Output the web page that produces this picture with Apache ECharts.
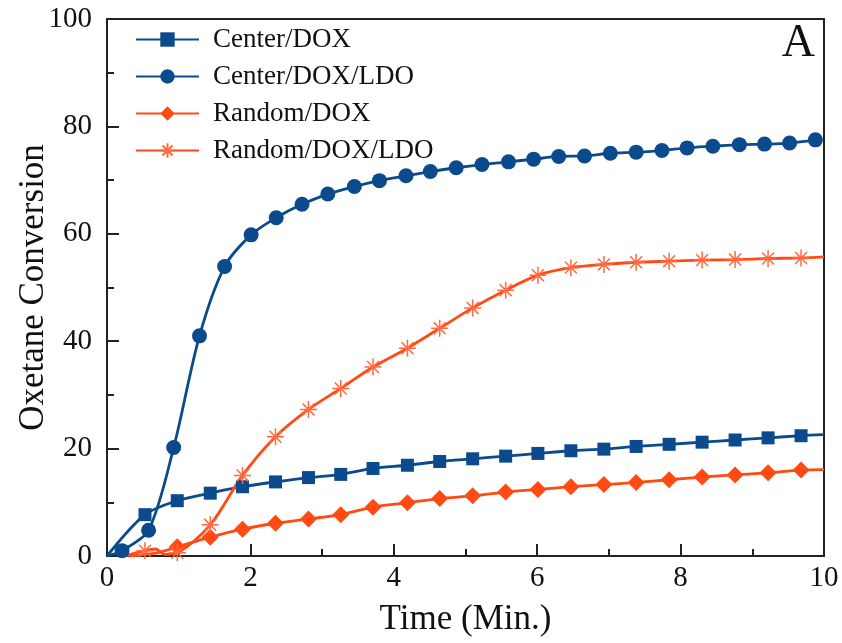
<!DOCTYPE html>
<html>
<head>
<meta charset="utf-8">
<script src="https://cdn.jsdelivr.net/npm/echarts@6/dist/echarts.min.js"></script>
<style>
  html, body { margin: 0; padding: 0; background: #fff; }
  #chart { width: 842px; height: 643px; }
</style>
</head>
<body>
<div id="chart"></div>
<script>
// sample times (min) shared by squares, diamonds and stars
const timeA = [0.53, 0.98, 1.44, 1.89, 2.35, 2.81, 3.26, 3.71, 4.19, 4.64, 5.10,
  5.56, 6.01, 6.47, 6.93, 7.38, 7.84, 8.30, 8.76, 9.22, 9.68]
// sample times for the circles
const timeB = [0.21, 0.58, 0.93, 1.29, 1.64, 2.01, 2.36, 2.72, 3.08, 3.45, 3.80,
  4.17, 4.51, 4.87, 5.23, 5.60, 5.95, 6.30, 6.66, 7.02, 7.38, 7.74, 8.09, 8.45,
  8.82, 9.17, 9.52, 9.88]

const centerDox = [7.7, 10.3, 11.7, 12.9, 13.8, 14.6, 15.2, 16.3, 16.9, 17.6, 18.1,
  18.6, 19.1, 19.6, 19.9, 20.4, 20.8, 21.2, 21.6, 22.0, 22.4]
const centerDoxLdo = [1.0, 4.8, 20.2, 41.0, 53.9, 59.8, 63.0, 65.5, 67.4, 68.8, 69.9,
  70.8, 71.6, 72.3, 72.9, 73.4, 73.9, 74.4, 74.5, 75.0, 75.2, 75.5, 76.0, 76.3,
  76.6, 76.7, 76.9, 77.5]
// Random/DOX has no marker at the first time of timeA
const randomDox = [null, 1.7, 3.5, 5.0, 6.1, 6.9, 7.7, 9.1, 9.9, 10.7, 11.2,
  11.9, 12.4, 12.9, 13.3, 13.7, 14.2, 14.7, 15.1, 15.5, 16.0]
const randomDoxLdo = [1.0, 0.6, 5.8, 15.0, 22.2, 27.3, 31.2, 35.2, 38.7, 42.4, 46.2,
  49.5, 52.3, 53.7, 54.3, 54.7, 54.9, 55.1, 55.2, 55.4, 55.5]

// unmarked parts of the traces (start near 0, end at the right frame)
const centerDoxLead = [[0, 0]]
const centerDoxEnd = [[10, 22.6]]
const centerDoxLdoLead = [[0, 0]]
const randomDoxLead = [[0.3, 0], [0.7, 0.6]]
const randomDoxEnd = [[10, 16.1]]
const randomDoxLdoLead = [[0.25, 0]]
const randomDoxLdoWiggle = [[0.68, 1.3], [0.8, 0.3]]
const randomDoxLdoEnd = [[10, 55.7]]

const xTicks = [0, 2, 4, 6, 8, 10]
const yTicks = [0, 20, 40, 60, 80, 100]

const blue = '#0b4a8c'
const orange = '#ff4a14'
const starColor = '#ff6a40'
const font = 'Liberation Serif, Times New Roman, serif'

const plain = (pts) => pts.map(p => ({ value: p, symbol: 'none' }))
const marked = (ts, vs) => ts.map((t, i) => [t, vs[i]]).filter(p => p[1] !== null)

const seriesData = {
  centerDox: [...plain(centerDoxLead), ...marked(timeA, centerDox), ...plain(centerDoxEnd)],
  centerDoxLdo: [...plain(centerDoxLdoLead), ...marked(timeB, centerDoxLdo)],
  randomDox: [...plain(randomDoxLead), ...marked(timeA, randomDox), ...plain(randomDoxEnd)],
  randomDoxLdo: [
    ...plain(randomDoxLdoLead),
    [timeA[0], randomDoxLdo[0]],
    ...plain(randomDoxLdoWiggle),
    ...marked(timeA.slice(1), randomDoxLdo.slice(1)),
    ...plain(randomDoxLdoEnd),
  ],
}

const asterisk = 'path://M0,-10L0,10M-10,0L10,0M-7,-7L7,7M-7,7L7,-7'

const chart = echarts.init(document.getElementById('chart'))

const lineSeries = (name, data, color, symbol, size, extra) => Object.assign({
  name,
  type: 'line',
  data,
  smooth: 0.3,
  symbol,
  symbolSize: size,
  showAllSymbol: true,
  lineStyle: { color, width: 2.8 },
  itemStyle: { color },
  emphasis: { disabled: true },
}, extra || {})

chart.setOption({
  animation: false,
  textStyle: { fontFamily: font },
  grid: {
    left: 107,
    right: 18,
    top: 19,
    bottom: 87,
    outerBoundsMode: 'none',
    show: true,
    borderColor: '#222',
    borderWidth: 2,
  },
  legend: {
    left: 130,
    top: 21,
    orient: 'vertical',
    itemWidth: 63,
    itemHeight: 18,
    itemGap: 10,
    textStyle: { fontFamily: font, fontSize: 27, color: '#111', padding: [0, 0, 0, 9] },
    data: ['Center/DOX', 'Center/DOX/LDO', 'Random/DOX', 'Random/DOX/LDO'],
  },
  graphic: [{
    type: 'text',
    right: 27,
    top: 21,
    style: { text: 'A', font: '46px ' + font, fill: '#111' },
  }],
  xAxis: {
    type: 'value',
    min: 0,
    max: 10,
    interval: 2,
    name: 'Time (Min.)',
    nameLocation: 'middle',
    nameGap: 46,
    nameMoveOverlap: false,
    nameTextStyle: { fontFamily: font, fontSize: 35, color: '#111' },
    axisLine: { lineStyle: { color: '#222', width: 2 } },
    axisTick: { inside: true, length: 12, lineStyle: { color: '#222', width: 2 } },
    minorTick: { show: true, splitNumber: 2, length: 7, lineStyle: { color: '#222', width: 2 } },
    axisLabel: {
      margin: 8,
      fontFamily: font,
      fontSize: 29,
      color: '#111',
      formatter: v => (xTicks.includes(v) ? String(v) : ''),
    },
    splitLine: { show: false },
  },
  yAxis: {
    type: 'value',
    min: 0,
    max: 100,
    interval: 20,
    name: 'Oxetane Conversion',
    nameLocation: 'middle',
    nameGap: 56,
    nameMoveOverlap: false,
    nameTextStyle: { fontFamily: font, fontSize: 35, color: '#111' },
    axisLine: { show: true, lineStyle: { color: '#222', width: 2 } },
    axisTick: { show: true, inside: true, length: 12, lineStyle: { color: '#222', width: 2 } },
    minorTick: { show: true, splitNumber: 2, length: 7, lineStyle: { color: '#222', width: 2 } },
    axisLabel: {
      margin: 15,
      fontFamily: font,
      fontSize: 29,
      color: '#111',
      formatter: v => (yTicks.includes(v) ? String(v) : ''),
    },
    splitLine: { show: false },
  },
  series: [
    lineSeries('Center/DOX', seriesData.centerDox, blue, 'rect', 13),
    lineSeries('Center/DOX/LDO', seriesData.centerDoxLdo, blue, 'circle', 15),
    lineSeries('Random/DOX', seriesData.randomDox, orange, 'diamond', 17),
    lineSeries('Random/DOX/LDO', seriesData.randomDoxLdo, orange, asterisk, 17, {
      itemStyle: { color: starColor, borderColor: starColor, borderWidth: 1.5 },
    }),
  ],
})

window.addEventListener('resize', () => {
  chart.resize()
})
</script>
</body>
</html>
